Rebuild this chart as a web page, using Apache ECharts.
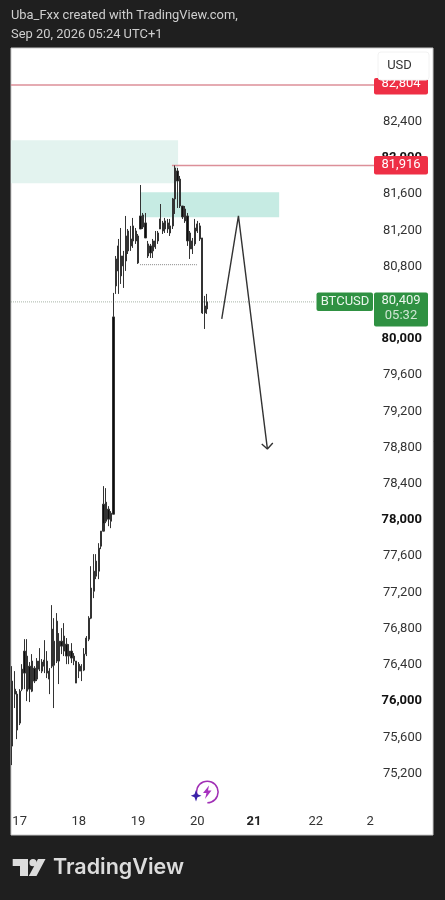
<!DOCTYPE html>
<html><head><meta charset="utf-8">
<script src="https://cdn.jsdelivr.net/npm/echarts@6/dist/echarts.min.js"></script>
<style>html,body{margin:0;padding:0;background:#1f1f1f}#c{width:445px;height:900px}</style>
</head><body><div id="c"></div>
<script>
const opens=[76221,76077,76077,75757,76132,76309,76497,76132,76442,76221,76243,76353,76431,76386,76442,76331,76386,76662,76442,76662,76607,76552,76629,76552,76475,76497,76442,76331,76386,76342,76519,76684,76916,77214,77546,77435,77711,77877,78197,78120,77987,78064,
80585,80751,80916,80806,80861,81192,81027,81248,81082,81137,81214,81369,81281,81049,80949,80972,81082,81082,81214,81281,81214,81281,81248,81248,81546,81855,81766,81468,81435,81358,81170,80994,81049,81270,81248,81115,80287,80331];
const closes=[75503,76132,75680,76110,76353,76552,76110,76386,76110,76364,76442,76442,76331,76453,76309,76243,76795,76397,76883,76442,76662,76718,76497,76497,76552,76442,76199,76408,76331,76519,76696,76916,77248,77435,77380,77689,77877,78175,77987,78009,78075,80243,
80883,81027,80696,80916,81137,80972,81104,81082,81192,80839,81358,81236,81115,80916,81027,81082,81016,81170,81325,81192,81303,81214,81170,81546,81888,81744,81468,81347,81303,81082,80994,81082,81225,81192,81104,80287,80364,80409];
const lows=[75293,75923,75580,75735,76110,76132,76000,75989,76099,76199,76221,76331,76309,76309,76254,76077,76364,75923,76420,76188,76519,76497,76408,76408,76420,76397,76199,76254,76221,76331,76497,76662,76905,77137,77347,77347,77678,77965,77965,77932,77910,78064,
80497,80497,80607,80563,80751,80938,80972,81005,81049,80828,81214,81214,81115,80894,80894,80894,80994,81049,81214,81159,81170,81170,81137,81214,81380,81446,81446,81325,81281,81027,80883,80938,81027,81170,81082,80276,80110,80276];
const highs=[76386,76331,76110,76132,76408,76684,76684,76431,76519,76386,76475,76585,76464,76673,76552,76364,77060,76916,76972,76751,76806,76861,76696,76629,76640,76530,76442,76431,76408,76585,76718,76938,77490,77623,77623,77744,77877,78374,78352,78153,78098,80508,
80916,81104,81225,80972,81358,81214,81248,81336,81225,81159,81700,81391,81391,81082,81049,81104,81192,81192,81490,81303,81336,81325,81325,81557,81916,81888,81800,81468,81468,81391,81192,81115,81325,81303,81281,81115,80475,80497];

const slotCount=171;
const drawUnits=172;
const dayTickSlots=[3,27,51,75,98,123,145];
const dayTickLabels=['17','18','19','20','21','22','2'];
const priceTicks=[82800,82400,82000,81600,81200,80800,80000,79600,79200,78800,78400,78000,77600,77200,76800,76400,76000,75600,75200];
const boldPrices=[82000,80000,78000,76000];
const yMin=74521,yMax=83213;

const zoneA=[0,68.1,82195,81719];
const zoneB=[53,109.3,81621,81345];
const highLine=82804, lastHigh=81916, lastPrice=80409, swingLow=80820;
const arrowPath=[[85.9,80221],[92.7,81358],[104.5,78785]];
const arrowHead=[[102.2,78840],[104.5,78785],[106.7,78851]];

const categories=Array.from({length:slotCount},(_,i)=>i);
const candles=opens.map((o,i)=>[o,closes[i],lows[i],highs[i]]);
const lineSeries=(data,color,width,type,z)=>({type:'line',xAxisIndex:1,yAxisIndex:0,data,symbol:'none',silent:true,z:z||3,
  lineStyle:{color,width,type:type||'solid'}});

const txt=(x,y,text,fill,font,align,z)=>({type:'text',x,y,z:z||50,style:{text,fill,font,align:align||'center',verticalAlign:'middle'}});
const box=(x,y,w,h,fill,z,r)=>({type:'rect',z:z||49,shape:{x,y,width:w,height:h,r:r==null?2:r},style:{fill}});

const chart=echarts.init(document.getElementById('c'));
chart.setOption({
  animation:false,
  backgroundColor:'#1f1f1f',
  grid:{left:11,right:12,top:48,height:787,show:true,backgroundColor:'#ffffff',borderColor:'#c9c9c9',borderWidth:1},
  xAxis:[
    {type:'category',data:categories,boundaryGap:true,axisLine:{show:false},axisTick:{show:false},splitLine:{show:false},
     axisLabel:{inside:true,margin:7,interval:(i)=>dayTickSlots.includes(i),hideOverlap:false,color:'#333',fontFamily:'Roboto',fontSize:13,
       formatter:(v)=>{const k=dayTickSlots.indexOf(+v);if(k<0)return'';const s=dayTickLabels[k];return s==='21'?'{b|'+s+'}':s;},
       rich:{b:{fontWeight:'bold',fontFamily:'Roboto',fontSize:13,color:'#222'}}}},
    {type:'value',min:0,max:drawUnits,show:false,splitLine:{show:false}}
  ],
  yAxis:[{type:'value',position:'right',min:yMin,max:yMax,scale:true,axisLine:{show:false},axisTick:{show:false},splitLine:{show:false},
    axisLabel:{inside:true,margin:11,customValues:priceTicks,color:'#333',fontFamily:'Roboto',fontSize:13,
      formatter:(v)=>{const s=Math.round(v).toLocaleString('en-US');return boldPrices.includes(Math.round(v))?'{b|'+s+'}':s;},
      rich:{b:{fontWeight:'bold',fontFamily:'Roboto',fontSize:13,color:'#111'}}}}],
  series:[
    {type:'line',xAxisIndex:1,data:[],z:1,silent:true,
     markArea:{silent:true,data:[
       [{xAxis:zoneA[0],yAxis:zoneA[2],itemStyle:{color:'#e3f3ef'}},{xAxis:zoneA[1],yAxis:zoneA[3]}],
       [{xAxis:zoneB[0],yAxis:zoneB[2],itemStyle:{color:'#c6ebe3'}},{xAxis:zoneB[1],yAxis:zoneB[3]}]
     ]}},
    lineSeries([[0,highLine],[148.6,highLine]],'#dc8f99',1.5),
    lineSeries([[65.6,lastHigh],[148.6,lastHigh]],'#dc8f99',1.5),
    lineSeries([[0,lastPrice],[124,lastPrice]],'#a8b5a8',1,'dotted'),
    lineSeries([[52.6,swingLow],[75.8,swingLow]],'#888888',1,'dotted'),
    {type:'candlestick',xAxisIndex:0,yAxisIndex:0,data:candles,barWidth:1.7,z:4,silent:true,
     itemStyle:{color:'#0c0c0c',color0:'#0c0c0c',borderColor:'#333333',borderColor0:'#333333',borderWidth:1}},
    lineSeries(arrowPath,'#333',1.4,'solid',5),
    lineSeries(arrowHead,'#333',1.4,'solid',5)
  ],
  graphic:{elements:[
    txt(11,16,'Uba_Fxx created with TradingView.com,','#cfcfcf','12.9px Roboto','left'),
    txt(11,35,'Sep 20, 2026 05:24 UTC+1','#cfcfcf','12.9px Roboto','left'),
    box(374,78,54,16.5,'#ee2f45',49),
    txt(401,84,'82,804','#fff','13px Roboto'),
    {type:'rect',z:52,shape:{x:378,y:52,width:51,height:28,r:3},style:{fill:'#fff',stroke:'#f2f2f2'}},
    txt(399.5,66,'USD','#333','13px Roboto','center',53),
    box(374,156,54,18.5,'#ee2f45',49),
    txt(401,164.5,'81,916','#fff','13px Roboto'),
    box(316.5,292.5,56.5,18.5,'#2f9142',49),
    txt(345,302,'BTCUSD','#eaf5ec','13px Roboto'),
    box(374,292.5,54,34,'#2f9142',49),
    txt(401,301,'80,409','#eaf5ec','13px Roboto'),
    txt(401,316,'05:32','#cfe6d3','13px Roboto'),
    {type:'arc',z:50,shape:{cx:207.3,cy:792,r:10.8,startAngle:2.75,endAngle:2.75+5.1,clockwise:true},style:{stroke:'#a02fb5',lineWidth:1.5,fill:null}},
    {type:'polygon',z:50,shape:{points:[[209,785.5],[203,793],[206.5,793],[205,799],[211.5,790.5],[208,790.5]]},style:{fill:'#a832c0'}},
    {type:'polygon',z:51,shape:{points:[[196,790],[197.5,794.2],[201.5,795.7],[197.5,797.2],[196,801.5],[194.5,797.2],[190.8,795.7],[194.5,794.2]]},style:{fill:'#3a22a8'}},
    {type:'polygon',z:50,shape:{points:[[12.7,859],[28,859],[28,876],[20,876],[20,866],[12.7,866]]},style:{fill:'#dcdcdc'}},
    {type:'circle',z:50,shape:{cx:33,cy:862.7,r:3.6},style:{fill:'#dcdcdc'}},
    {type:'polygon',z:50,shape:{points:[[38,859],[45.5,859],[36.5,876],[28.8,876]]},style:{fill:'#dcdcdc'}},
    txt(53,867.5,'TradingView','#dcdcdc','600 21.5px Inter','left')
  ]}
});
</script></body></html>
